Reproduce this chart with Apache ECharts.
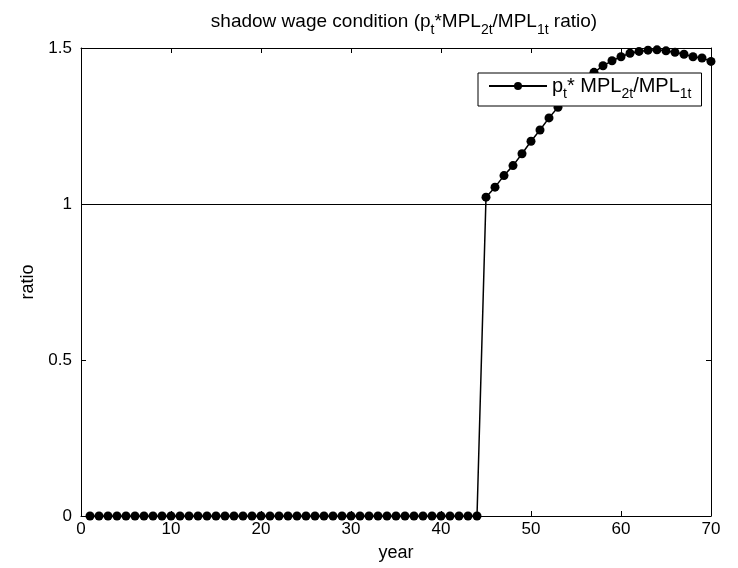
<!DOCTYPE html>
<html lang="en">
<head>
    <meta charset="UTF-8">
    <title>shadow wage condition</title>
    <script src="https://cdn.jsdelivr.net/npm/echarts@6/dist/echarts.min.js"></script>
    <style>
        html, body { margin: 0; padding: 0; background: #fff; }
        #main { width: 738px; height: 568px; }
    </style>
</head>
<body>
<div id="main"></div>
<script type="text/javascript">
    // years on the x axis
    var years = [1, 2, 3, 4, 5, 6, 7, 8, 9, 10,
        11, 12, 13, 14, 15, 16, 17, 18, 19, 20,
        21, 22, 23, 24, 25, 26, 27, 28, 29, 30,
        31, 32, 33, 34, 35, 36, 37, 38, 39, 40,
        41, 42, 43, 44, 45, 46, 47, 48, 49, 50,
        51, 52, 53, 54, 55, 56, 57, 58, 59, 60,
        61, 62, 63, 64, 65, 66, 67, 68, 69, 70];

    // p_t * MPL_2t / MPL_1t
    var ratio = [0, 0, 0, 0, 0, 0, 0, 0, 0, 0,
        0, 0, 0, 0, 0, 0, 0, 0, 0, 0,
        0, 0, 0, 0, 0, 0, 0, 0, 0, 0,
        0, 0, 0, 0, 0, 0, 0, 0, 0, 0,
        0, 0, 0, 0, 1.022, 1.054, 1.091, 1.123, 1.161, 1.201,
        1.237, 1.276, 1.31, 1.342, 1.371, 1.398, 1.422, 1.443, 1.459, 1.472,
        1.483, 1.489, 1.493, 1.494, 1.491, 1.486, 1.480, 1.472, 1.468, 1.457];

    var refLevel = 1;
    var xTicks = [0, 70, 10];     // min, max, interval
    var yTicks = [0, 1.5, 0.5];

    var font = 'Liberation Sans, Arial, Helvetica, sans-serif';
    var sup = {
        n: {fontSize: 19, fontFamily: font, color: '#000', lineHeight: 30},
        s: {fontSize: 14, fontFamily: font, color: '#000', verticalAlign: 'bottom', lineHeight: 30}
    };
    var legSup = {
        n: {fontSize: 20, fontFamily: font, color: '#000', lineHeight: 30},
        s: {fontSize: 14, fontFamily: font, color: '#000', verticalAlign: 'bottom', lineHeight: 30}
    };

    var pts = [];
    for (var i = 0; i < years.length; i++) {
        pts.push([years[i], ratio[i]]);
    }

    function xAx(pos, show) {
        return {
            type: 'value', position: pos, min: xTicks[0], max: xTicks[1], interval: xTicks[2],
            axisLine: {show: true, onZero: false, lineStyle: {color: '#000', width: 1}},
            axisTick: {show: true, inside: true, length: 5, lineStyle: {color: '#000'}},
            axisLabel: {show: show, color: '#000', fontSize: 17, fontFamily: font, margin: 5},
            splitLine: {show: false},
            name: show ? 'year' : '', nameLocation: 'middle', nameGap: 28,
            nameTextStyle: {color: '#000', fontSize: 18, fontFamily: font}
        };
    }
    function yAx(pos, show) {
        return {
            type: 'value', position: pos, min: yTicks[0], max: yTicks[1], interval: yTicks[2],
            axisLine: {show: true, onZero: false, lineStyle: {color: '#000', width: 1}},
            axisTick: {show: true, inside: true, length: 5, lineStyle: {color: '#000'}},
            axisLabel: {show: show, color: '#000', fontSize: 17, fontFamily: font, margin: 9},
            splitLine: {show: false},
            name: show ? 'ratio' : '', nameLocation: 'middle', nameGap: 42,
            nameTextStyle: {color: '#000', fontSize: 18, fontFamily: font}
        };
    }

    var myChart = echarts.init(document.getElementById('main'));
    myChart.setOption({
        animation: false,
        backgroundColor: '#fff',
        title: {
            text: '{n|shadow wage condition (p}{s|t}{n|*MPL}{s|2t}{n|/MPL}{s|1t}{n| ratio)}',
            left: 399, top: 2, textAlign: 'center',
            textStyle: {fontWeight: 'normal', rich: sup}
        },
        legend: {
            left: 478, top: 73,
            padding: [3, 10, 5, 10],
            borderColor: '#000', borderWidth: 1, borderRadius: 0,
            backgroundColor: '#fff',
            itemWidth: 58, itemHeight: 10,
            data: ['ratio'],
            formatter: function () {
                return '{n|p}{s|t}{n|* MPL}{s|2t}{n|/MPL}{s|1t}';
            },
            textStyle: {rich: legSup}
        },
        grid: {left: 81, right: 27, top: 48, bottom: 52},
        xAxis: [xAx('bottom', true), xAx('top', false)],
        yAxis: [yAx('left', true), yAx('right', false)],
        series: [{
            name: 'ratio',
            type: 'line',
            data: pts,
            symbol: 'circle',
            symbolSize: 9,
            itemStyle: {color: '#000'},
            lineStyle: {color: '#000', width: 1.5},
            markLine: {
                silent: true,
                symbol: ['none', 'none'],
                label: {show: false},
                lineStyle: {color: '#000', width: 1, type: 'solid'},
                data: [{yAxis: refLevel}]
            }
        }]
    });
</script>
</body>
</html>
